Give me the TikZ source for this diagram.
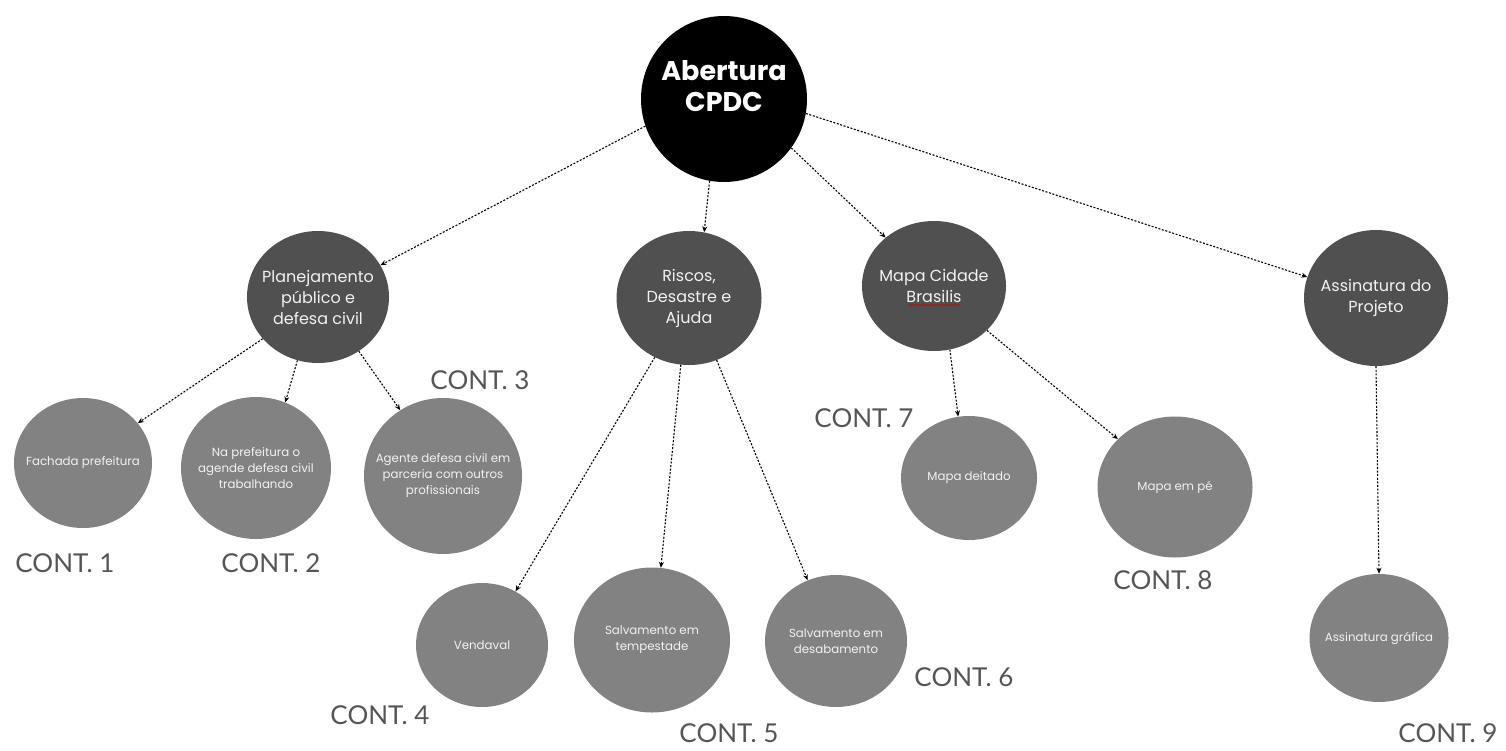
\documentclass[tikz,border=0pt]{standalone}
\usepackage{fontspec}
\setmainfont{Poppins}
\newfontfamily\contfont{Lato}
\usetikzlibrary{shapes.geometric,arrows.meta,decorations.pathmorphing}

\definecolor{midgray}{RGB}{80,80,80}
\definecolor{leafgray}{RGB}{130,130,130}
\definecolor{contgray}{RGB}{85,85,85}
\definecolor{bubtext}{RGB}{242,242,242}

\tikzset{
  rootbub/.style={circle, fill=black, minimum size=166pt, inner sep=0pt},
  roottext/.style={align=center, text=white, yshift=13pt, font=\bfseries\fontsize{27}{31}\selectfont},
  midbub/.style={ellipse, fill=midgray, inner sep=0pt},
  midtext/.style={align=center, text=bubtext, font=\fontsize{16}{21}\selectfont},
  leafbub/.style={ellipse, fill=leafgray, inner sep=0pt},
  leaftext/.style={align=center, text=bubtext, font=\fontsize{11.8}{16}\selectfont},
  link/.style={-{Stealth[length=6pt,width=5pt]}, dash pattern=on 2pt off 1.6pt, line width=1.1pt, black},
  cont/.style={text=contgray, font=\contfont\fontsize{26}{30}\selectfont, inner sep=0pt},
}

\begin{document}
\begin{tikzpicture}[x=1pt, y=-1pt]
\useasboundingbox (0,0) rectangle (1506,750);

% root
\node[rootbub, label={[roottext]center:Abertura\\CPDC}] (root) at (724,99) {};

% first level
\node[midbub, minimum width=142pt, minimum height=132pt,
      label={[midtext]center:Planejamento\\público e\\defesa civil}] (plan) at (318,297) {};
\node[midbub, minimum width=145pt, minimum height=134pt,
      label={[midtext]center:Riscos,\\Desastre e\\Ajuda}] (risc) at (689,298) {};
\node[midbub, minimum width=144pt, minimum height=130pt,
      label={[midtext]center:Mapa Cidade\\Brasilis}] (mapa) at (934,286) {};
\node[midbub, minimum width=144pt, minimum height=136pt,
      label={[midtext]center:Assinatura do\\Projeto}] (assi) at (1376,298) {};

% second level
\node[leafbub, minimum width=138pt, minimum height=130pt,
      label={[leaftext]center:Fachada prefeitura}] (fach) at (83,463) {};
\node[leafbub, minimum width=150pt, minimum height=142pt,
      label={[leaftext]center:Na prefeitura o\\agende defesa civil\\trabalhando}] (napr) at (256,468) {};
\node[leafbub, minimum width=158pt, minimum height=156pt,
      label={[leaftext]center:Agente defesa civil em\\parceria com outros\\profissionais}] (agen) at (443,476) {};
\node[leafbub, minimum width=132pt, minimum height=124pt,
      label={[leaftext]center:Vendaval}] (vend) at (482,645) {};
\node[leafbub, minimum width=156pt, minimum height=145pt,
      label={[leaftext]center:Salvamento em\\tempestade}] (temp) at (652,640) {};
\node[leafbub, minimum width=142pt, minimum height=132pt,
      label={[leaftext]center:Salvamento em\\desabamento}] (desa) at (836,641) {};
\node[leafbub, minimum width=136pt, minimum height=124pt,
      label={[leaftext]center:Mapa deitado}] (deit) at (969,478) {};
\node[leafbub, minimum width=155pt, minimum height=141pt,
      label={[leaftext]center:Mapa em pé}] (empe) at (1175,487) {};
\node[leafbub, minimum width=139pt, minimum height=128pt,
      label={[leaftext]center:Assinatura gráfica}] (graf) at (1379,638) {};

% spell-check mark under "Brasilis"
\draw[red!80!black, line width=0.6pt, decorate,
      decoration={snake, amplitude=0.6pt, segment length=3pt}] (909,305) -- (960,305);

% continuation labels
\node[cont] (c1) at (65,563) {CONT. 1};
\node[cont] (c2) at (271,563) {CONT. 2};
\node[cont] (c3) at (480,380) {CONT. 3};
\node[cont] (c4) at (380,715) {CONT. 4};
\node[cont] (c5) at (729,733) {CONT. 5};
\node[cont] (c6) at (964,677) {CONT. 6};
\node[cont] (c7) at (864,418) {CONT. 7};
\node[cont] (c8) at (1163,580) {CONT. 8};
\node[cont] (c9) at (1448,733) {CONT. 9};

% connectors
\draw[link] (root.199) -- (plan.27);
\draw[link] (root.260) -- (risc.77);
\draw[link] (root.324) -- (mapa.135);
\draw[link] (root.350) -- (assi.163);
\draw[link] (plan.217) -- (fach.36);
\draw[link] (plan.252) -- (napr.66);
\draw[link] (plan.307) -- (agen.123);
\draw[link] (risc.240) -- (vend.58);
\draw[link] (risc.263) -- (temp.83);
\draw[link] (risc.294) -- (desa.115);
\draw[link] (mapa.284) -- (deit.100);
\draw[link] (mapa.320) -- (empe.140);
\draw[link] (assi.270) -- (graf.90);
\end{tikzpicture}
\end{document}
